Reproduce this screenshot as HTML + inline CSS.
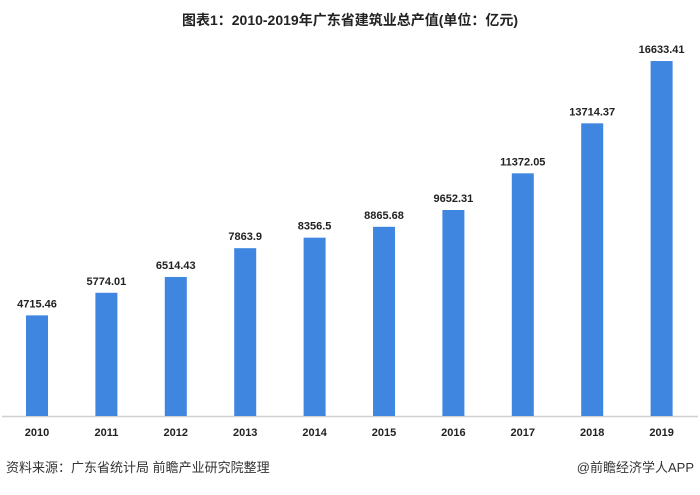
<!DOCTYPE html><html><head><meta charset="utf-8"><style>body{margin:0;background:#fff}</style></head><body>
<svg width="700" height="490" xmlns="http://www.w3.org/2000/svg" font-family="Liberation Sans, Noto Sans CJK SC, sans-serif">
<text x="350" y="25" text-anchor="middle" font-size="14" font-weight="bold" fill="#222">图表1：2010-2019年广东省建筑业总产值(单位：亿元)</text>
<line x1="2" y1="416.5" x2="698" y2="416.5" stroke="#d0d0d0" stroke-width="1.5"/>
<g fill="#3f86e0" id="b"></g>
<g font-size="11" font-weight="bold" fill="#222" text-anchor="middle" id="t"></g>
<text x="6" y="472" font-size="13" fill="#333">资料来源：广东省统计局 前瞻产业研究院整理</text>
<text x="694" y="472" font-size="13" fill="#333" text-anchor="end">@前瞻经济学人APP</text>
<script>
var v=[4715.46,5774.01,6514.43,7863.9,8356.5,8865.68,9652.31,11372.05,13714.37,16633.41],L=["4715.46","5774.01","6514.43","7863.9","8356.5","8865.68","9652.31","11372.05","13714.37","16633.41"];
var b=document.getElementById('b'),t=document.getElementById('t'),ns="http://www.w3.org/2000/svg";
v.forEach(function(d,i){var c=37+i*69.4,h=d*0.02134,r=document.createElementNS(ns,'rect');r.setAttribute('x',c-11);r.setAttribute('y',416-h);r.setAttribute('width',22);r.setAttribute('height',h);b.appendChild(r);
var a=document.createElementNS(ns,'text');a.setAttribute('x',c);a.setAttribute('y',416-h-8);a.textContent=L[i];t.appendChild(a);
var y=document.createElementNS(ns,'text');y.setAttribute('x',c);y.setAttribute('y',436);y.textContent=2010+i;t.appendChild(y);});
</script>
</svg></body></html>
